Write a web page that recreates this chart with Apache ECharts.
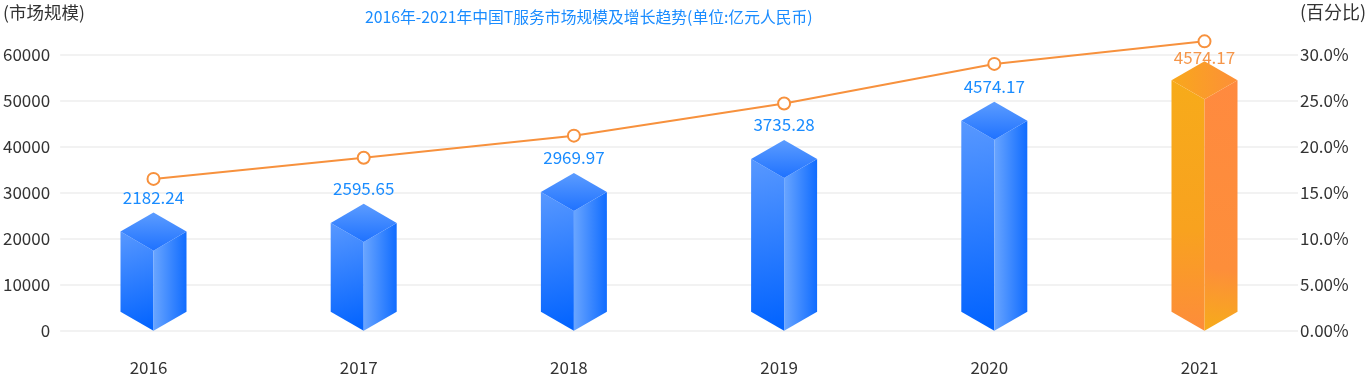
<!DOCTYPE html>
<html>
<head>
<meta charset="utf-8">
<script src="https://cdn.jsdelivr.net/npm/echarts@6/dist/echarts.min.js"></script>
<style>
html,body{margin:0;padding:0;background:#fff;}
#main{width:1369px;height:378px;}
</style>
</head>
<body>
<div id="main"></div>
<script>
// ---- data ----
const categories = ['2016', '2017', '2018', '2019', '2020', '2021'];
const marketSize = [17400, 19300, 26000, 33200, 41500, 50300];
const barLabels = ['2182.24', '2595.65', '2969.97', '3735.28', '4574.17', '4574.17'];
const growthRate = [16.5, 18.8, 21.2, 24.7, 29.0, 31.45];
const leftTicks = { min: 0, max: 60000, interval: 10000 };
const rightTicks = { min: 0, max: 30, interval: 5 };

const FONT = '"Noto Sans CJK SC", "Noto Sans", sans-serif';
const chart = echarts.init(document.getElementById('main'));
const LG = echarts.graphic.LinearGradient;

function renderBar(params, api) {
  const idx = params.dataIndex;
  const p = api.coord([api.value(0), api.value(1)]);
  const b = api.coord([api.value(0), 0]);
  const band = api.size([1, 0])[0];
  const w = band * 0.157;
  const h = w * 0.577;
  const gridTop = api.coord([0, leftTicks.max])[1];
  const last = idx === categories.length - 1;
  const fills = last ? {
    left: new LG(0, 0, 0, 1, [{offset: 0, color: '#f7ab1a'}, {offset: 0.6, color: '#f8a21f'}, {offset: 1, color: '#fd8c3b'}]),
    right: new LG(1, 0, 0, 1, [{offset: 0, color: '#ff8a3f'}, {offset: 0.75, color: '#fd8e3a'}, {offset: 1, color: '#f6ac1a'}]),
    top: new LG(0, 0, 1, 0, [{offset: 0, color: '#f8a81c'}, {offset: 1, color: '#fd8f38'}]),
    text: '#f5964a'
  } : {
    left: new LG(0, 0, 1, 1, [{offset: 0, color: '#5898ff'}, {offset: 1, color: '#0062ff'}]),
    right: new LG(0, 0, 1, 0, [{offset: 0, color: '#69a5ff'}, {offset: 1, color: '#106cff'}]),
    top: new LG(0, 0, 0, 1, [{offset: 0, color: '#5c9cff'}, {offset: 1, color: '#1f72ff'}]),
    text: '#1a8cff'
  };
  return {
    type: 'group',
    children: [
      {type: 'polygon', shape: {points: [[p[0], p[1]], [p[0] - w, p[1] - h], [b[0] - w, b[1] - h], [b[0], b[1]]]}, style: {fill: fills.left}},
      {type: 'polygon', shape: {points: [[p[0], p[1]], [p[0] + w, p[1] - h], [b[0] + w, b[1] - h], [b[0], b[1]]]}, style: {fill: fills.right}},
      {type: 'polygon', shape: {points: [[p[0], p[1]], [p[0] + w, p[1] - h], [p[0], p[1] - 2 * h], [p[0] - w, p[1] - h]]}, style: {fill: fills.top}},
      {type: 'text', x: p[0], y: Math.max(p[1] - 2 * h - 15, gridTop + 2.5),
       style: {text: barLabels[idx], align: 'center', verticalAlign: 'middle', fill: fills.text, font: '17px ' + FONT}}
    ]
  };
}

const option = {
  animation: false,
  textStyle: {fontFamily: FONT},
  title: [
    {text: '2016年-2021年中国T服务市场规模及增长趋势(单位:亿元人民币)', left: 365, top: 9, padding: 0,
     textStyle: {color: '#1a8cff', fontSize: 15.8, fontWeight: 'normal', fontFamily: FONT}},
    {text: '(市场规模)', left: 3, top: 4, padding: 0,
     textStyle: {color: '#333', fontSize: 17.5, fontWeight: 'normal', fontFamily: FONT}},
    {text: '(百分比)', left: 1300, top: 3, padding: 0,
     textStyle: {color: '#333', fontSize: 18, fontWeight: 'normal', fontFamily: FONT}}
  ],
  grid: [
    {left: 59, right: 71, top: 54.7, bottom: 47.3},
    {left: 48.4, right: 59.4, top: 54.7, bottom: 47.3}
  ],
  xAxis: [
    {gridIndex: 0, type: 'category', data: categories, show: false},
    {gridIndex: 1, type: 'category', data: categories,
     axisLine: {show: false}, axisTick: {show: false},
     axisLabel: {margin: 28, color: '#333', fontSize: 17, padding: [0, 10, 0, 0]}}
  ],
  yAxis: [
    {gridIndex: 0, type: 'value', min: leftTicks.min, max: leftTicks.max, interval: leftTicks.interval,
     axisLine: {show: false}, axisTick: {show: false},
     axisLabel: {margin: 10, color: '#333', fontSize: 17, formatter: v => String(v)},
     splitLine: {lineStyle: {color: '#eeeeee', width: 1.5}}},
    {gridIndex: 0, type: 'value', position: 'right', min: rightTicks.min, max: rightTicks.max, interval: rightTicks.interval,
     axisLine: {show: false}, axisTick: {show: false}, splitLine: {show: false},
     axisLabel: {margin: 2, color: '#333', fontSize: 17, formatter: v => v.toPrecision(3) + '%'}},
    {gridIndex: 1, type: 'value', min: leftTicks.min, max: leftTicks.max, show: false, splitLine: {show: false}},
    {gridIndex: 1, type: 'value', min: rightTicks.min, max: rightTicks.max, show: false, splitLine: {show: false}}
  ],
  series: [
    {type: 'custom', xAxisIndex: 1, yAxisIndex: 2, renderItem: renderBar,
     encode: {x: 0, y: 1},
     data: marketSize.map((v, i) => [i, v]), z: 2},
    {type: 'line', xAxisIndex: 1, yAxisIndex: 3, data: growthRate, clip: false, z: 5,
     symbol: 'circle', symbolSize: 12,
     lineStyle: {color: '#f7913d', width: 2},
     itemStyle: {color: '#ffffff', borderColor: '#f7913d', borderWidth: 2}}
  ]
};
chart.setOption(option);
</script>
</body>
</html>
